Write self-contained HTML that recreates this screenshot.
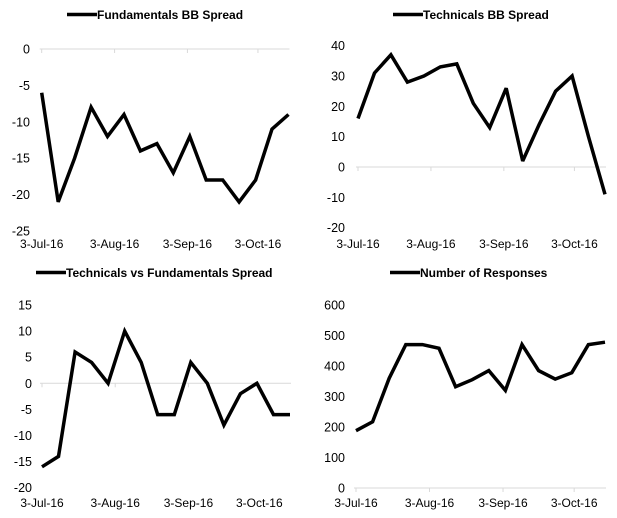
<!DOCTYPE html>
<html><head><meta charset="utf-8"><style>
html,body{margin:0;padding:0;background:#fff;}
svg{display:block;font-family:"Liberation Sans",Arial,sans-serif;}
</style></head><body>
<svg id="c" width="617" height="518"></svg>
<script>
const dates = ["3-Jul-16","10-Jul-16","17-Jul-16","24-Jul-16","31-Jul-16","7-Aug-16","14-Aug-16","21-Aug-16","28-Aug-16","4-Sep-16","11-Sep-16","18-Sep-16","25-Sep-16","2-Oct-16","9-Oct-16","16-Oct-16"];
const xTickLabels = ["3-Jul-16","3-Aug-16","3-Sep-16","3-Oct-16"];
const xTickDays = [0,31,62,92];
const fundamentals = [-6,-21,-15,-8,-12,-9,-14,-13,-17,-12,-18,-18,-21,-18,-11,-9];
const technicals = [16,31,37,28,30,33,34,21,13,26,2,14,25,30,10,-9];
const techVsFund = [-16,-14,6,4,0,10,4,-6,-6,4,0,-8,-2,0,-6,-6];
const responses = [188,217,360,470,470,458,332,355,385,320,470,385,357,378,470,478];
const ticks1 = [0,-5,-10,-15,-20,-25];
const ticks2 = [40,30,20,10,0,-10,-20];
const ticks3 = [15,10,5,0,-5,-10,-15,-20];
const ticks4 = [600,500,400,300,200,100,0];

const NS="http://www.w3.org/2000/svg";
const svg=document.getElementById('c');
function mk(tag,attrs,parent){const e=document.createElementNS(NS,tag);for(const k in attrs)e.setAttribute(k,attrs[k]);(parent||svg).appendChild(e);return e;}

function chart(id,title,vals,ticks,box){
  const g=mk('g',{});
  
  
  const ymax=ticks[0], ymin=ticks[ticks.length-1];
  const ys=v=>box.top+(ymax-v)/(ymax-ymin)*(box.bottom-box.top);
  const xs=d=>box.x0+d/105*(box.x1-box.x0);
  const axY=ys(Math.max(ymin,Math.min(ymax,0)));
  const ax=mk('line',{x1:box.x0-2,x2:box.x1+1,y1:axY,y2:axY,stroke:'#d9d9d9','stroke-width':1},g);
  
  
  xTickDays.forEach((d,i)=>{
    mk('line',{x1:xs(d),x2:xs(d),y1:axY,y2:axY+4,stroke:'#d9d9d9'},g);
    const t=mk('text',{x:xs(d),y:box.xl,'font-size':12,'text-anchor':'middle',fill:'#000'},g);
    t.textContent=xTickLabels[i];
    
    
  });
  ticks.forEach(v=>{
    const t=mk('text',{x:box.yl,y:ys(v)+4.5,'font-size':12.5,'text-anchor':'end',fill:'#000'},g);
    t.textContent=v;
    
    
  });
  const pts=vals.map((v,i)=>xs(i*7).toFixed(1)+','+ys(v).toFixed(1)).join(' ');
  const pl=mk('polyline',{points:pts,fill:'none',stroke:'#000','stroke-width':3.5,'stroke-linejoin':'miter','stroke-miterlimit':3},g);
  
  
  const lg=mk('line',{x1:box.lx,x2:box.lx+30,y1:box.ly-4.5,y2:box.ly-4.5,stroke:'#000','stroke-width':3.5},g);
  
  
  const lt=mk('text',{x:box.lx+30,y:box.ly,'font-size':12,'font-weight':'bold',fill:'#000'},g);
  lt.textContent=title;
  
  
}
chart('fundamentals-chart','Fundamentals BB Spread',fundamentals,ticks1,{x0:41.7,x1:288.5,top:49,bottom:231,xl:248,yl:30,lx:67,ly:19});
chart('technicals-chart','Technicals BB Spread',technicals,ticks2,{x0:358,x1:605,top:45.7,bottom:227.7,xl:248,yl:345,lx:393,ly:19});
chart('tech-vs-fund-chart','Technicals vs Fundamentals Spread',techVsFund,ticks3,{x0:42,x1:290,top:305,bottom:487.7,xl:507,yl:32,lx:36,ly:277});
chart('responses-chart','Number of Responses',responses,ticks4,{x0:356,x1:605,top:305,bottom:488,xl:507,yl:345,lx:390,ly:277});
</script>
</body></html>
